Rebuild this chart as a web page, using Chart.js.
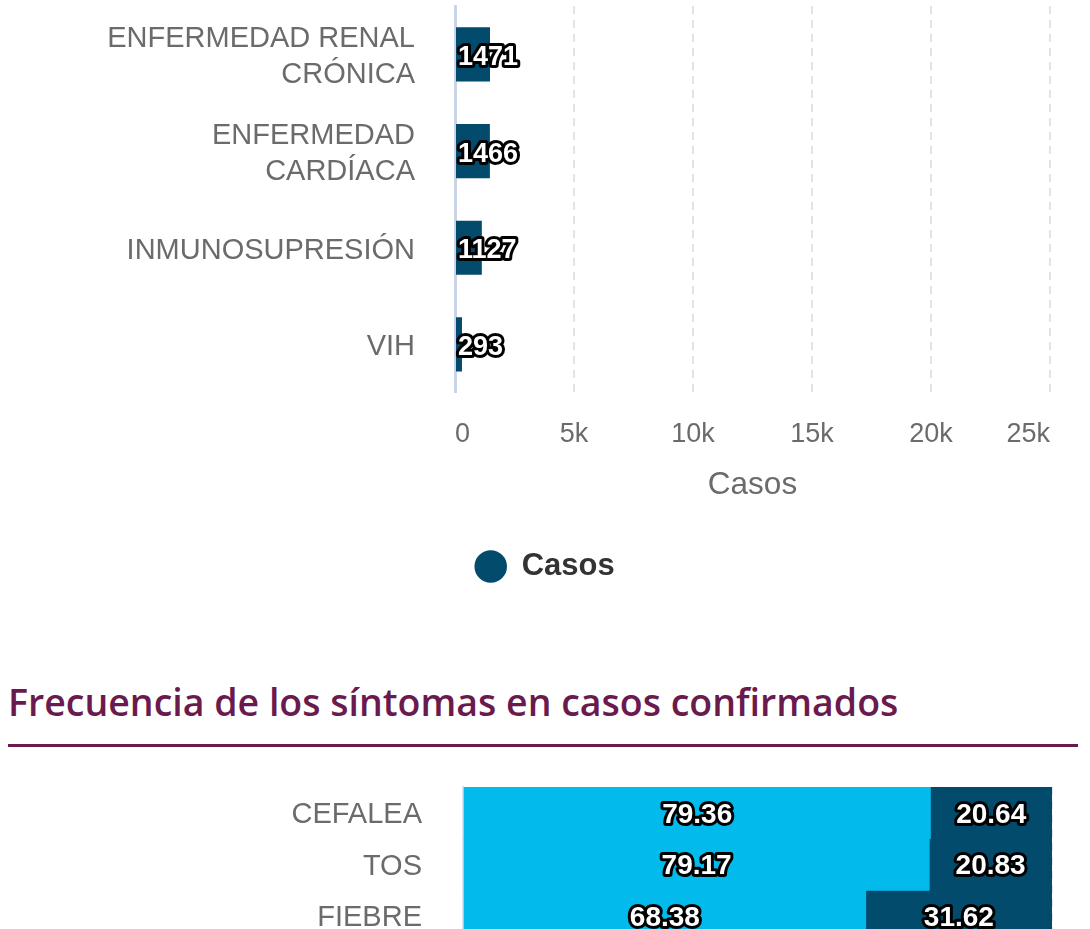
<!DOCTYPE html>
<html lang="es">
<head>
  <meta charset="UTF-8" />
  <title>Comorbilidades y síntomas</title>
  <script src="https://cdn.jsdelivr.net/npm/chart.js"></script>
  <style>
    html, body { margin: 0; padding: 0; background: #fff; }
    body { width: 1090px; height: 929px; overflow: hidden; position: relative; font-family: "Liberation Sans", Arial, sans-serif; }
    #boxTop { position: absolute; left: 0; top: 0; width: 1090px; height: 600px; }
    #titulo { position: absolute; left: 8px; top: 683px; margin: 0; font-family: "Open Sans", "Noto Sans", sans-serif; font-weight: 600; font-size: 37.5px; color: #6b1a4e; line-height: 1; white-space: nowrap; }
    #linea { position: absolute; left: 8px; top: 744px; width: 1070px; height: 3px; background: #6b1a4e; }
    #boxBottom { position: absolute; left: 0; top: 770px; width: 1090px; height: 176px; }
  </style>
</head>
<body>
  <div id="boxTop"><canvas id="chartTop"></canvas></div>
  <h2 id="titulo">Frecuencia de los síntomas en casos confirmados</h2>
  <div id="linea"></div>
  <div id="boxBottom"><canvas id="chartBottom"></canvas></div>

  <script>
    // Datos - comorbilidades
    const comorbCategorias = [['ENFERMEDAD RENAL', 'CRÓNICA'], ['ENFERMEDAD', 'CARDÍACA'], 'INMUNOSUPRESIÓN', 'VIH'];
    const comorbCasos = [1471, 1466, 1127, 293];
    const ejeXTicks = [0, 5000, 10000, 15000, 20000, 25000];

    // Datos - síntomas (%)
    const sintomasCategorias = ['CEFALEA', 'TOS', 'FIEBRE'];
    const sintomasNo = [79.36, 79.17, 68.38];
    const sintomasSi = [20.64, 20.83, 31.62];

    const gris = '#6b6b6b';
    const azulOscuro = '#024b6c';
    const azulClaro = '#02bbec';

    // etiquetas blancas con contorno negro
    function dibujarEtiqueta(ctx, txt, x, y, align, size) {
      ctx.save();
      ctx.font = 'bold ' + size + 'px "Liberation Sans", Arial, sans-serif';
      ctx.textAlign = align;
      ctx.textBaseline = 'middle';
      ctx.lineJoin = 'round';
      ctx.lineWidth = 6;
      ctx.strokeStyle = '#000';
      ctx.strokeText(txt, x, y);
      ctx.fillStyle = '#fff';
      ctx.fillText(txt, x, y);
      ctx.restore();
    }

    const etiquetasInicio = {
      id: 'etiquetasInicio',
      afterDatasetsDraw(chart) {
        const meta = chart.getDatasetMeta(0);
        meta.data.forEach((bar, i) => {
          dibujarEtiqueta(chart.ctx, String(chart.data.datasets[0].data[i]), bar.base + 2, bar.y + 3, 'left', 27);
        });
      }
    };

    const etiquetasCentro = {
      id: 'etiquetasCentro',
      afterDatasetsDraw(chart) {
        chart.data.datasets.forEach((ds, d) => {
          chart.getDatasetMeta(d).data.forEach((bar, i) => {
            dibujarEtiqueta(chart.ctx, ds.data[i].toFixed(2), (bar.x + bar.base) / 2, bar.y + 2, 'center', 28);
          });
        });
      }
    };

    // sin relleno extra por las etiquetas de los ejes
    function ajustarEjeY(ancho) {
      return s => { s.width = ancho; s.paddingTop = 0; s.paddingBottom = 0; };
    }
    function ajustarEjeX(s) { s.paddingLeft = 0; s.paddingRight = 0; }

    Chart.defaults.font.family = '"Liberation Sans", Arial, sans-serif';
    Chart.defaults.animation = false;

    new Chart(document.getElementById('chartTop'), {
      type: 'bar',
      data: {
        labels: comorbCategorias,
        datasets: [{
          label: 'Casos',
          data: comorbCasos,
          backgroundColor: azulOscuro,
          barPercentage: 0.56,
          categoryPercentage: 1
        }]
      },
      options: {
        indexAxis: 'y',
        responsive: true,
        maintainAspectRatio: false,
        layout: { padding: { top: 6, right: 40, left: 40, bottom: 8 } },
        scales: {
          x: {
            min: 0, max: 25000,
            afterBuildTicks: s => { s.ticks = ejeXTicks.map(v => ({ value: v })); },
            afterFit: ajustarEjeX,
            ticks: {
              color: gris,
              font: { size: 27 },
              padding: 26,
              align: 'inner',
              callback: v => v === 0 ? '0' : (v / 1000) + 'k'
            },
            grid: { color: '#e3e3e3', lineWidth: 2, drawTicks: false },
            border: { display: false, dash: [8, 6] },
            title: { display: true, text: 'Casos', color: gris, font: { size: 31.5 }, padding: { top: -11, bottom: 17 } }
          },
          y: {
            afterFit: ajustarEjeY(415),
            ticks: { color: gris, font: { size: 29, lineHeight: 1.24 }, padding: 40, labelOffset: 3 },
            grid: { display: false, drawTicks: false },
            border: { display: true, color: '#c9d4e8', width: 3 }
          }
        },
        plugins: {
          legend: {
            position: 'bottom',
            labels: {
              usePointStyle: true,
              pointStyle: 'circle',
              boxWidth: 31,
              boxHeight: 23,
              padding: 30,
              color: '#333',
              font: { size: 31, weight: 'bold' }
            }
          },
          tooltip: { enabled: false }
        }
      },
      plugins: [etiquetasInicio]
    });

    new Chart(document.getElementById('chartBottom'), {
      type: 'bar',
      data: {
        labels: sintomasCategorias,
        datasets: [
          { label: 'No', data: sintomasNo, backgroundColor: azulClaro, barPercentage: 1, categoryPercentage: 1 },
          { label: 'Sí', data: sintomasSi, backgroundColor: azulOscuro, barPercentage: 1, categoryPercentage: 1 }
        ]
      },
      options: {
        indexAxis: 'y',
        responsive: true,
        maintainAspectRatio: false,
        layout: { padding: { top: 17, right: 38, left: 0, bottom: 4 } },
        scales: {
          x: {
            stacked: true, min: 0, max: 100,
            afterFit: ajustarEjeX,
            ticks: { display: false, stepSize: 20 },
            grid: { color: '#e3e3e3', lineWidth: 2, drawTicks: false },
            border: { display: false, dash: [8, 6] }
          },
          y: {
            stacked: true,
            afterFit: ajustarEjeY(463),
            ticks: { color: gris, font: { size: 29 }, padding: 41, labelOffset: 2 },
            grid: { display: false, drawTicks: false },
            border: { display: true, color: '#dfe5ef', width: 2 }
          }
        },
        plugins: { legend: { display: false }, tooltip: { enabled: false } }
      },
      plugins: [etiquetasCentro]
    });
  </script>
</body>
</html>
